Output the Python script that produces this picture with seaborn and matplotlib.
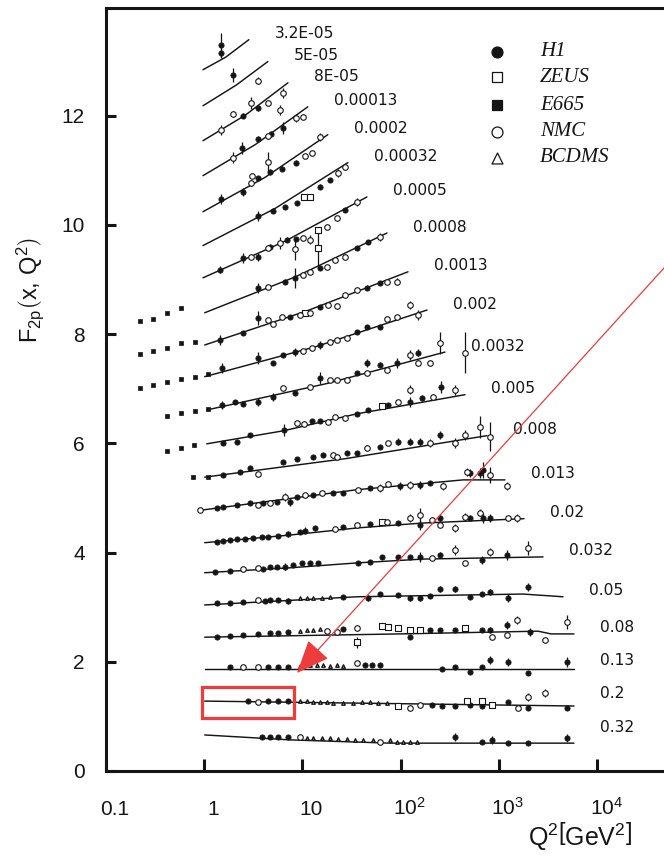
import matplotlib
matplotlib.use("Agg")
import numpy as np
import pandas as pd
import seaborn as sns
import matplotlib.pyplot as plt
from matplotlib import patches, transforms
from matplotlib.ticker import NullLocator

# ---------------------------------------------------------------------------
# F2 of the proton versus Q^2, one row of points per x bin (values as plotted,
# i.e. F2 plus the vertical offset of each bin)
# ---------------------------------------------------------------------------
X_BINS = ["3.2E-05", "5E-05", "8E-05", "0.00013", "0.0002", "0.00032", "0.0005",
          "0.0008", "0.0013", "0.002", "0.0032", "0.005", "0.008", "0.013",
          "0.02", "0.032", "0.05", "0.08", "0.13", "0.2", "0.32"]

# QCD fit curves: knots (Q2, F2) for each x bin
FIT_Q2 = [
    [0.98, 1.67, 2.87], [0.98, 2.14, 4.48], [0.98, 2.65, 7.16], [0.98, 3.34, 11.4],
    [0.98, 4.2, 18.2], [0.98, 5.3, 29.2], [0.98, 6.7, 45.5], [1.02, 8.6, 72.8],
    [1.02, 11.0, 119], [1.02, 13.8, 186], [1.07, 17.4, 283], [1.07, 6.5, 36, 452],
    [1.02, 27.8, 757], [0.98, 36, 431, 1153], [1.02, 7.49, 36, 168, 1800],
    [1.02, 7.49, 36, 168, 2812], [1.02, 36, 1758, 4487],
    [1.02, 98.6, 2500, 3390, 5800], [1.02, 5800], [1.02, 5800],
    [1.02, 7.49, 78, 5800],
]
FIT_F2 = [
    [12.84, 13.07, 13.39], [12.18, 12.56, 12.99], [11.54, 12.01, 12.60],
    [10.90, 11.47, 12.16], [10.24, 10.87, 11.65], [9.62, 10.30, 11.14],
    [9.03, 9.70, 10.51], [8.39, 9.05, 9.85], [7.80, 8.42, 9.14], [7.22, 7.77, 8.44],
    [6.61, 7.09, 7.67], [5.99, 6.23, 6.54, 6.89], [5.38, 5.72, 6.14],
    [4.78, 5.15, 5.33, 5.33], [4.18, 4.32, 4.45, 4.54, 4.62],
    [3.63, 3.72, 3.81, 3.88, 3.92], [3.04, 3.19, 3.24, 3.19],
    [2.45, 2.51, 2.56, 2.51, 2.51], [1.87, 1.87], [1.28, 1.19],
    [0.66, 0.57, 0.51, 0.51],
]

# measurements: (Q2, F2, error)
H1 = [
    (1.49, 13.15, 0.09), (1.49, 13.30, 0.22),
    (1.97, 12.75, 0.13),
    (2.49, 12.00, 0.05), (3.54, 12.14, 0.06),
    (2.43, 11.41, 0.11), (3.54, 11.57, 0.05), (4.80, 11.66, 0.05), (6.36, 11.78, 0.11),
    (1.49, 10.48, 0.09), (2.49, 10.60, 0.07), (3.54, 10.86, 0.04), (4.69, 10.97, 0.05),
    (6.20, 11.03, 0.04), (8.60, 11.14, 0.04),
    (3.54, 10.16, 0.09), (5.04, 10.26, 0.04), (6.67, 10.33, 0.04), (8.80, 10.40, 0.04),
    (15.1, 10.70, 0.04), (19.1, 10.82, 0.04),
    (1.45, 9.18, 0.07), (2.49, 9.40, 0.09), (3.54, 9.41, 0.07), (4.69, 9.60, 0.04),
    (6.99, 9.73, 0.04), (8.60, 9.74, 0.04), (27.2, 10.27, 0.04),
    (3.54, 8.85, 0.09), (6.67, 8.96, 0.04), (8.41, 9.03, 0.18), (15.1, 9.21, 0.04),
    (36.0, 9.58, 0.04), (46.5, 9.69, 0.04),
    (1.45, 7.89, 0.09), (2.49, 8.02, 0.04), (3.54, 8.30, 0.13), (7.49, 8.31, 0.04),
    (15.1, 8.50, 0.04), (45.5, 8.85, 0.04), (61.7, 8.94, 0.04),
    (1.52, 7.38, 0.09), (3.54, 7.56, 0.11), (5.04, 7.47, 0.04), (6.36, 7.62, 0.04),
    (8.41, 7.67, 0.07), (15.1, 7.80, 0.07), (36.0, 8.04, 0.04), (45.5, 8.13, 0.04),
    (61.7, 8.13, 0.04),
    (1.52, 6.70, 0.07), (2.07, 6.76, 0.04), (2.49, 6.72, 0.04), (3.54, 6.76, 0.07),
    (5.04, 6.85, 0.07), (8.41, 6.92, 0.04), (15.1, 7.20, 0.11), (36.0, 7.29, 0.04),
    (45.5, 7.47, 0.07), (61.7, 7.44, 0.04), (92.0, 7.47, 0.09), (150, 7.66, 0.07),
    (1.56, 6.01, 0.04), (2.17, 6.03, 0.04), (2.94, 6.15, 0.04), (6.50, 6.25, 0.11),
    (12.5, 6.41, 0.04), (15.1, 6.41, 0.04), (36.0, 6.54, 0.04), (46.5, 6.61, 0.04),
    (74.3, 6.70, 0.04), (125, 6.76, 0.09), (164, 6.83, 0.05), (256, 7.03, 0.11),
    (1.56, 5.42, 0.04), (2.32, 5.48, 0.04), (2.94, 5.55, 0.04), (6.36, 5.66, 0.04),
    (8.80, 5.71, 0.04), (12.8, 5.75, 0.04), (16.2, 5.79, 0.04), (28.5, 5.82, 0.04),
    (36.0, 5.82, 0.04), (61.7, 5.93, 0.04), (94.0, 6.03, 0.07), (125, 6.03, 0.07),
    (158, 6.03, 0.07), (252, 6.15, 0.07),
    (1.36, 4.82, 0.03), (1.56, 4.84, 0.03), (2.17, 4.87, 0.03), (2.94, 4.91, 0.03),
    (3.98, 4.91, 0.03), (5.53, 4.93, 0.03), (7.49, 4.93, 0.07), (8.80, 5.02, 0.03),
    (12.8, 5.05, 0.03), (20.5, 5.09, 0.03), (25.9, 5.09, 0.03), (48.8, 5.18, 0.04),
    (98.6, 5.22, 0.07), (158, 5.24, 0.07), (199, 5.27, 0.04), (508, 5.46, 0.07),
    (643, 5.46, 0.09), (689, 5.51, 0.15),
    (1.36, 4.19, 0.02), (1.56, 4.21, 0.02), (1.84, 4.23, 0.02), (2.17, 4.25, 0.02),
    (2.61, 4.25, 0.02), (3.15, 4.27, 0.02), (3.89, 4.29, 0.02), (4.48, 4.29, 0.02),
    (5.65, 4.30, 0.02), (7.16, 4.34, 0.06), (9.45, 4.38, 0.02), (10.6, 4.40, 0.06),
    (13.4, 4.45, 0.02), (25.9, 4.47, 0.02), (48.8, 4.52, 0.03), (94.0, 4.54, 0.03),
    (158, 4.51, 0.09), (252, 4.63, 0.07), (508, 4.63, 0.05), (689, 4.63, 0.09),
    (812, 4.63, 0.07),
    (1.29, 3.64, 0.02), (1.84, 3.66, 0.02), (3.98, 3.70, 0.02), (4.69, 3.74, 0.02),
    (5.53, 3.74, 0.02), (6.67, 3.74, 0.06), (8.04, 3.77, 0.02), (9.90, 3.81, 0.02),
    (11.9, 3.81, 0.02), (14.4, 3.81, 0.02), (36.9, 3.81, 0.02), (48.8, 3.83, 0.02),
    (65.0, 3.92, 0.02), (94.0, 3.92, 0.03), (125, 3.92, 0.03), (158, 3.92, 0.09),
    (252, 3.96, 0.05), (678, 3.86, 0.07), (1207, 3.96, 0.09),
    (1.36, 3.08, 0.02), (1.84, 3.08, 0.02), (2.49, 3.10, 0.02), (4.17, 3.11, 0.02),
    (4.69, 3.13, 0.02), (5.65, 3.13, 0.02), (7.16, 3.11, 0.05), (25.9, 3.19, 0.02),
    (46.5, 3.17, 0.05), (61.7, 3.24, 0.02), (94.0, 3.22, 0.02), (125, 3.17, 0.06),
    (158, 3.17, 0.06), (199, 3.21, 0.02), (252, 3.33, 0.06), (358, 3.33, 0.06),
    (508, 3.19, 0.02), (678, 3.24, 0.02), (812, 3.28, 0.06), (1235, 3.17, 0.07),
    (1975, 3.37, 0.07),
    (1.36, 2.45, 0.02), (1.84, 2.47, 0.02), (2.49, 2.49, 0.02), (3.54, 2.51, 0.02),
    (4.69, 2.53, 0.02), (5.65, 2.53, 0.02), (7.16, 2.55, 0.02), (25.9, 2.60, 0.02),
    (125, 2.45, 0.02), (199, 2.58, 0.02), (252, 2.58, 0.02), (358, 2.58, 0.02),
    (678, 2.58, 0.02), (812, 2.58, 0.05), (1207, 2.67, 0.07), (2074, 2.55, 0.07),
    (1.84, 1.90, 0.02), (4.48, 1.90, 0.02), (5.65, 1.90, 0.02), (7.16, 1.90, 0.02),
    (43.4, 1.94, 0.02), (51.3, 1.94, 0.02), (61.7, 1.94, 0.02), (264, 1.87, 0.02),
    (358, 1.90, 0.02), (508, 1.81, 0.02), (678, 1.90, 0.02), (812, 2.03, 0.07),
    (1235, 2.00, 0.07), (1975, 1.79, 0.02), (4926, 2.00, 0.09),
    (2.80, 1.28, 0.02), (4.48, 1.28, 0.02), (5.65, 1.28, 0.02), (7.16, 1.28, 0.02),
    (208, 1.21, 0.02), (264, 1.19, 0.02), (358, 1.19, 0.02), (508, 1.21, 0.02),
    (678, 1.19, 0.02), (1235, 1.26, 0.02), (1975, 1.15, 0.02), (4926, 1.15, 0.03),
    (3.89, 0.62, 0.02), (4.69, 0.62, 0.02), (5.65, 0.62, 0.02), (7.16, 0.62, 0.02),
    (358, 0.62, 0.07), (678, 0.53, 0.02), (850, 0.57, 0.07), (1235, 0.51, 0.02),
    (1975, 0.51, 0.02), (4926, 0.60, 0.07),
]

ZEUS = [
    (10.4, 10.51, 0.03), (11.9, 10.51, 0.03),
    (14.4, 9.58, 0.35), (14.4, 9.91, 0.04),
    (10.6, 8.39, 0.03),
    (65.0, 6.68, 0.03),
    (65.0, 4.56, 0.03),
    (36.0, 2.36, 0.10), (65.0, 2.66, 0.02), (74.3, 2.64, 0.02), (94.0, 2.62, 0.02),
    (125, 2.58, 0.02), (158, 2.58, 0.02), (452, 2.62, 0.02),
    (94.0, 1.19, 0.02), (475, 1.28, 0.02), (678, 1.28, 0.02), (850, 1.21, 0.02),
]

E665 = [
    (0.223, 8.24, 0.0), (0.303, 8.28, 0.0), (0.42, 8.39, 0.0), (0.58, 8.48, 0.0),
    (0.223, 7.64, 0.0), (0.303, 7.69, 0.0), (0.42, 7.75, 0.0), (0.58, 7.84, 0.0),
    (0.81, 7.86, 0.0),
    (0.223, 7.01, 0.0), (0.303, 7.07, 0.0), (0.42, 7.12, 0.0), (0.58, 7.18, 0.0),
    (0.81, 7.22, 0.0), (1.10, 7.27, 0.0),
    (0.42, 6.50, 0.0), (0.58, 6.56, 0.0), (0.81, 6.59, 0.0), (1.10, 6.63, 0.0),
    (0.42, 5.86, 0.0), (0.58, 5.92, 0.0), (0.80, 5.97, 0.0),
    (0.77, 5.38, 0.0), (1.10, 5.38, 0.0),
]

NMC = [
    (3.54, 12.64, 0.07),
    (1.49, 11.74, 0.09), (1.97, 12.03, 0.05), (3.00, 12.23, 0.11), (4.48, 12.23, 0.04),
    (6.36, 12.42, 0.09),
    (1.97, 11.23, 0.10), (4.48, 11.62, 0.04), (5.93, 12.11, 0.09), (8.60, 11.96, 0.07),
    (10.2, 11.98, 0.05),
    (3.00, 10.77, 0.05), (3.10, 10.90, 0.05), (4.48, 11.15, 0.19), (10.6, 11.26, 0.04),
    (12.5, 11.32, 0.04), (15.1, 11.61, 0.08),
    (23.1, 10.95, 0.08), (27.2, 11.06, 0.05),
    (3.00, 9.41, 0.04), (4.48, 9.58, 0.04), (5.93, 9.67, 0.11), (8.40, 9.55, 0.20),
    (10.2, 9.76, 0.04), (11.9, 9.73, 0.09), (17.9, 9.96, 0.04), (22.6, 10.13, 0.04),
    (36.0, 10.42, 0.07),
    (4.48, 8.86, 0.04), (10.2, 9.08, 0.04), (11.9, 9.14, 0.04), (17.9, 9.23, 0.04),
    (21.5, 9.36, 0.04), (27.2, 9.41, 0.04), (61.7, 9.78, 0.07),
    (4.48, 8.26, 0.04), (5.04, 8.19, 0.04), (6.20, 8.31, 0.04), (9.45, 8.35, 0.04),
    (11.9, 8.39, 0.04), (18.2, 8.53, 0.04), (22.6, 8.52, 0.04), (27.2, 8.72, 0.04),
    (36.0, 8.81, 0.04), (72.8, 8.96, 0.04), (92.0, 8.96, 0.07),
    (10.2, 7.69, 0.04), (12.5, 7.75, 0.04), (19.1, 7.86, 0.04), (22.6, 7.89, 0.04),
    (28.5, 7.93, 0.04), (72.8, 8.28, 0.04), (92.0, 8.31, 0.04), (125, 8.53, 0.07),
    (150, 8.35, 0.09),
    (6.36, 7.01, 0.04), (11.9, 7.03, 0.04), (19.1, 7.16, 0.04), (22.6, 7.16, 0.04),
    (28.5, 7.16, 0.04), (45.5, 7.29, 0.04), (72.8, 7.34, 0.04), (125, 7.62, 0.09),
    (150, 7.47, 0.05), (199, 7.47, 0.05), (252, 7.84, 0.20), (452, 7.66, 0.38),
    (8.80, 6.37, 0.04), (10.4, 6.36, 0.04), (18.2, 6.39, 0.04), (21.5, 6.48, 0.04),
    (27.2, 6.47, 0.04), (94.0, 6.76, 0.04), (125, 6.98, 0.08), (214, 6.85, 0.05),
    (358, 6.98, 0.09),
    (3.54, 5.44, 0.04), (20.5, 5.79, 0.03), (22.6, 5.75, 0.04), (45.5, 5.92, 0.04),
    (74.3, 6.01, 0.04), (199, 6.01, 0.07), (358, 6.01, 0.09), (452, 6.15, 0.09),
    (643, 6.30, 0.20), (812, 6.12, 0.27),
    (0.91, 4.78, 0.0), (3.54, 4.87, 0.03), (4.69, 4.91, 0.03), (6.67, 5.02, 0.07),
    (10.6, 5.05, 0.03), (15.9, 5.09, 0.03), (36.9, 5.15, 0.03), (61.7, 5.18, 0.07),
    (74.3, 5.26, 0.04), (125, 5.24, 0.07), (272, 5.22, 0.07), (475, 5.48, 0.07),
    (812, 5.42, 0.15), (1207, 5.22, 0.07),
    (21.5, 4.43, 0.03), (36.0, 4.51, 0.03), (72.8, 4.56, 0.03), (125, 4.63, 0.07),
    (158, 4.69, 0.13), (208, 4.60, 0.03), (252, 4.51, 0.03), (358, 4.45, 0.07),
    (452, 4.65, 0.07), (643, 4.73, 0.07), (1235, 4.63, 0.04), (1522, 4.63, 0.07),
    (2.49, 3.70, 0.02), (3.54, 3.72, 0.02), (208, 3.90, 0.03), (358, 4.05, 0.09),
    (452, 3.81, 0.04), (812, 4.01, 0.07), (1975, 4.08, 0.13),
    (3.54, 3.13, 0.02),
    (17.9, 2.56, 0.02), (22.6, 2.55, 0.02), (36.0, 2.62, 0.02), (850, 2.45, 0.02),
    (1207, 2.49, 0.02), (1522, 2.77, 0.07), (2947, 2.40, 0.02), (4926, 2.73, 0.13),
    (2.49, 1.90, 0.02), (3.54, 1.90, 0.02), (36.0, 1.98, 0.02),
    (3.54, 1.26, 0.02), (125, 1.15, 0.02), (158, 1.21, 0.02), (1555, 1.15, 0.02),
    (1975, 1.36, 0.07), (2947, 1.43, 0.07),
    (9.45, 0.62, 0.02), (61.7, 0.53, 0.04),
]

BCDMS = [
    (9.45, 3.17, 0.0), (11.2, 3.17, 0.0), (12.8, 3.17, 0.0), (15.9, 3.17, 0.0),
    (19.1, 3.19, 0.0),
    (9.45, 2.56, 0.0), (11.2, 2.58, 0.0), (12.8, 2.58, 0.0), (15.1, 2.60, 0.0),
    (9.45, 1.92, 0.0), (11.9, 1.94, 0.0), (14.1, 1.94, 0.0), (16.2, 1.94, 0.0),
    (19.1, 1.92, 0.0), (22.6, 1.94, 0.0), (25.9, 1.92, 0.0),
    (9.45, 1.28, 0.0), (11.2, 1.28, 0.0), (12.8, 1.26, 0.0), (15.1, 1.26, 0.0),
    (17.9, 1.26, 0.0), (20.5, 1.25, 0.0), (25.9, 1.25, 0.0), (32.7, 1.25, 0.0),
    (40.5, 1.26, 0.0), (48.8, 1.26, 0.0), (58.8, 1.25, 0.0), (72.8, 1.25, 0.0),
    (11.2, 0.60, 0.0), (12.8, 0.60, 0.0), (15.9, 0.60, 0.0), (19.1, 0.60, 0.0),
    (23.1, 0.59, 0.0), (28.5, 0.59, 0.0), (34.4, 0.57, 0.0), (41.5, 0.57, 0.0),
    (52.3, 0.57, 0.0), (78.0, 0.57, 0.0), (92.0, 0.53, 0.0), (106, 0.53, 0.0),
    (125, 0.53, 0.0), (147, 0.53, 0.0),
]

EXPERIMENTS = ["H1", "ZEUS", "E665", "NMC", "BCDMS"]
X_TICKS = [0.1, 1, 10, 100, 1000, 10000]
X_TICK_LABELS = ["0.1", "1", "10", r"$10^{2}$", r"$10^{3}$", r"$10^{4}$"]
Y_TICKS = [0, 2, 4, 6, 8, 10, 12]

# ---------------------------------------------------------------------------
INK = "#151515"
RED = "#ee3b3b"
W, H = 664, 857

sns.set_theme(style="ticks")
plt.rcParams["font.family"] = ["Liberation Sans", "DejaVu Sans"]
plt.rcParams["mathtext.fontset"] = "custom"
plt.rcParams["mathtext.rm"] = "Liberation Sans"
plt.rcParams["mathtext.it"] = "Liberation Sans:italic"
plt.rcParams["mathtext.bf"] = "Liberation Sans:bold"

fig = plt.figure(figsize=(W / 100, H / 100), dpi=100)
fig.patch.set_facecolor("white")
ax = fig.add_axes([105.5 / W, (H - 771) / H, (W - 105.5) / W, 763 / H])
ax.set_facecolor("white")
ax.set_xscale("log")
ax.set_xlim(0.1, 10 ** 4.679)
ax.set_ylim(0, 13.97)

# fit curves
fit = pd.DataFrame(
    [(i, q, f) for i, (qs, fs) in enumerate(zip(FIT_Q2, FIT_F2)) for q, f in zip(qs, fs)],
    columns=["bin", "Q2", "F2"],
)
sns.lineplot(data=fit, x="Q2", y="F2", units="bin", estimator=None, sort=False,
             color=INK, lw=1.05, ax=ax, legend=False)

# data points with error bars
styles = {
    "H1":    dict(marker="o", s=14, color=INK, edgecolor=INK, linewidth=0.6),
    "ZEUS":  dict(marker="s", s=14, color="white", edgecolor=INK, linewidth=0.8),
    "E665":  dict(marker="s", s=12, color=INK, edgecolor=INK, linewidth=0.5),
    "NMC":   dict(marker="o", s=16, color="white", edgecolor=INK, linewidth=0.8),
    "BCDMS": dict(marker="^", s=6, color="white", edgecolor=INK, linewidth=1.0),
}
tables = {"H1": H1, "ZEUS": ZEUS, "E665": E665, "NMC": NMC, "BCDMS": BCDMS}
for name in EXPERIMENTS:
    df = pd.DataFrame(tables[name], columns=["Q2", "F2", "err"])
    bars = df[df["err"] > 0]
    ax.errorbar(bars["Q2"], bars["F2"], yerr=bars["err"], fmt="none",
                ecolor=INK, elinewidth=0.9, capsize=0, zorder=2)
    sns.scatterplot(data=df, x="Q2", y="F2", ax=ax, zorder=3, legend=False,
                    **styles[name])

# x-bin labels at the end of each fit curve
extra_raise = {18: 2, 19: 7, 20: 10}
for i, lab in enumerate(X_BINS):
    dy = 6 + extra_raise.get(i, 0)
    ax.annotate(lab, xy=(FIT_Q2[i][-1], FIT_F2[i][-1]),
                xytext=(26 * 0.72, dy * 0.72), textcoords="offset points",
                ha="left", va="center", fontsize=11.2, color=INK,
                fontfamily="DejaVu Sans")

# axes frame and ticks
for side in ["left", "bottom", "top"]:
    ax.spines[side].set_linewidth(2.2)
    ax.spines[side].set_color(INK)
ax.spines["right"].set_visible(False)

ax.set_xticks(X_TICKS)
ax.xaxis.set_minor_locator(NullLocator())
ax.tick_params(axis="x", which="major", direction="in", length=8.6, width=2.2,
               color=INK, top=False, bottom=True, labelbottom=False)
xlab_trans = transforms.offset_copy(ax.get_xaxis_transform(), fig=fig,
                                    x=9, y=0, units="dots")
for q, lab in zip(X_TICKS, X_TICK_LABELS):
    ax.text(q, -44 / 763, lab, transform=xlab_trans, ha="center",
            va="baseline", fontsize=15, color=INK)

ax.set_yticks(Y_TICKS)
ax.set_yticklabels([str(v) for v in Y_TICKS])
ax.tick_params(axis="y", direction="in", length=7.2, width=2.2, color=INK,
               right=False, labelsize=15, pad=15, labelcolor=INK)
ax.set_xlabel("")
ax.set_ylabel("")
ax.grid(False)

fig.text(30 / W, 1 - 290 / H,
         r"$\mathrm{F}_{\mathrm{2p}}\left(\mathrm{x},\,\mathrm{Q}^{2}\right)$",
         rotation=90, ha="center", va="center", fontsize=17, color=INK)
fig.text(580 / W, 1 - 836 / H,
         r"$\mathrm{Q}^{2}\left[\mathrm{GeV}^{2}\right]$",
         ha="center", va="center", fontsize=18, color=INK)

# legend of experiments
leg_rows = [52, 77, 105, 132, 158]
for name, row in zip(EXPERIMENTS, leg_rows):
    st = styles[name]
    ya = (771 - row) / 763
    ax.scatter([(497 - 105.5) / 558.5], [ya], transform=ax.transAxes,
               marker=st["marker"], s=62, facecolor=st["color"],
               edgecolor=INK, linewidth=0.9, zorder=4, clip_on=False)
    ax.text((540 - 105.5) / 558.5, ya, name, transform=ax.transAxes,
            ha="left", va="center", fontsize=15, color=INK,
            fontfamily="Liberation Serif", fontstyle="italic")

# red highlight: pointer arrow and box around the low-Q2 part of the x = 0.2 row
arrow = patches.FancyArrowPatch(
    posA=(669 / W, 1 - 262.5 / H), posB=(297 / W, 1 - 673 / H),
    transform=fig.transFigure,
    arrowstyle=patches.ArrowStyle("-|>", head_length=1.5, head_width=0.62),
    mutation_scale=14, color=RED, lw=0.9, shrinkA=0, shrinkB=0)
fig.add_artist(arrow)
box = patches.Rectangle((202 / W, 1 - 718 / H), 92 / W, 31 / H,
                        transform=fig.transFigure, fill=False,
                        edgecolor=RED, linewidth=2.3)
fig.add_artist(box)

fig.savefig("out.png", dpi=100, facecolor="white")
